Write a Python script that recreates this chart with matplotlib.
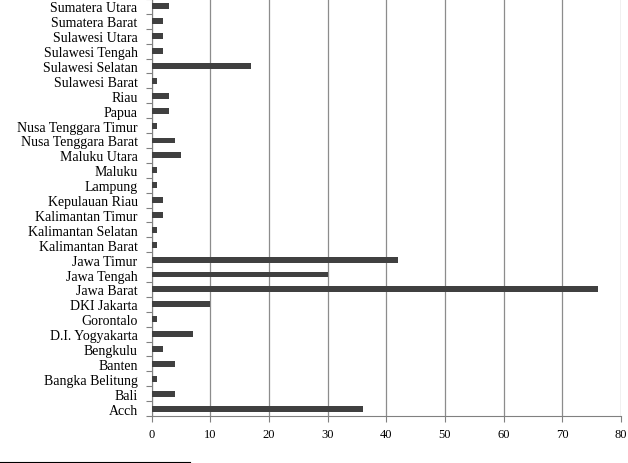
import numpy as np
import matplotlib
matplotlib.use("Agg")
import matplotlib.pyplot as plt
from matplotlib.lines import Line2D

# provinces, bottom to top
provinces = ["Acch", "Bali", "Bangka Belitung", "Banten", "Bengkulu",
             "D.I. Yogyakarta", "Gorontalo", "DKI Jakarta", "Jawa Barat",
             "Jawa Tengah", "Jawa Timur", "Kalimantan Barat", "Kalimantan Selatan",
             "Kalimantan Timur", "Kepulauan Riau", "Lampung", "Maluku",
             "Maluku Utara", "Nusa Tenggara Barat", "Nusa Tenggara Timur", "Papua",
             "Riau", "Sulawesi Barat", "Sulawesi Selatan", "Sulawesi Tengah",
             "Sulawesi Utara", "Sumatera Barat", "Sumatera Utara"]
counts = [36, 4, 1, 4, 2, 7, 1, 10, 76, 30, 42, 1, 1, 2, 2, 1, 1,
          5, 4, 1, 3, 3, 1, 17, 2, 2, 2, 3]
x_ticks = [0, 10, 20, 30, 40, 50, 60, 70, 80]

plt.rcParams['font.family'] = ['Liberation Serif', 'DejaVu Serif']

fig = plt.figure(figsize=(6.28, 4.64), dpi=100)
ax = fig.add_axes([151.5 / 628, 1 - 417 / 464, (621 - 151.5) / 628, 417 / 464])

y = np.arange(len(provinces))
ax.barh(y, counts, height=0.4, color="#404040", zorder=3)

ax.set_xlim(0, 80)
ax.set_ylim(-0.5, len(provinces) - 0.5)
ax.set_xticks(x_ticks)
ax.set_xticklabels([str(t) for t in x_ticks], fontsize=9)
ax.xaxis.grid(True, color="#8c8c8c", linewidth=0.9, zorder=0)

# category labels at centres, tick marks between categories
ax.set_yticks(np.arange(-0.5, len(provinces), 1.0))
ax.set_yticklabels([])
ax.set_yticks(y, minor=True)
ax.set_yticklabels(provinces, minor=True, fontsize=10)
ax.tick_params(axis="y", which="minor", length=0, pad=10)
ax.tick_params(axis="y", which="major", length=4, color="#808080")
ax.tick_params(axis="x", length=4, color="#808080", pad=5)

for s in ["top", "right"]:
    ax.spines[s].set_visible(False)
for s in ["left", "bottom"]:
    ax.spines[s].set_color("#808080")

# footnote separator line
fig.add_artist(Line2D([0, 190 / 628], [1 / 464, 1 / 464], color="black", linewidth=0.8))

fig.savefig("out.png", dpi=100)
